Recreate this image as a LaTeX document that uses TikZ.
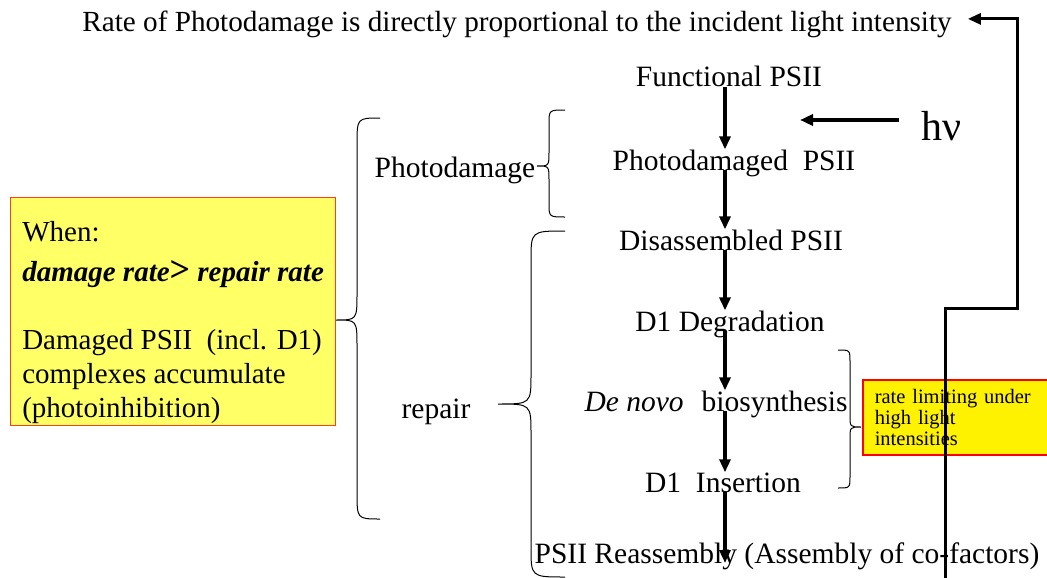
\documentclass[tikz,border=0pt]{standalone}
\usepackage{fontspec}
\setmainfont{Liberation Serif}
\usetikzlibrary{arrows.meta}
\definecolor{amarillo}{HTML}{FFFF66}
\definecolor{borde}{HTML}{FF4010}
\begin{document}
\begin{tikzpicture}[x=1pt,y=-1pt,
  txt/.style={inner sep=0pt,anchor=base,font=\fontsize{29.5}{34}\selectfont},
  flecha/.style={line width=3.8pt,-{Triangle[length=13pt,width=11pt]}},
  llave/.style={line width=1pt}]
\useasboundingbox (0,0) rectangle (1047,578);
\node[txt,font=\fontsize{29.2}{34}\selectfont] (top) at (517,32)
  {Rate of Photodamage is directly proportional to the incident light intensity};
\node[txt] (func) at (729,87) {Functional PSII};
\node[txt] (pdam) at (734,170) {Photodamaged\ \ PSII};
\node[txt] (dis) at (731,250) {Disassembled PSII};
\node[txt] (deg) at (730,331) {D1 Degradation};
\node[txt] (bio) at (716,411) {\textit{De novo}\hspace{18pt}biosynthesis};
\node[txt] (ins) at (723,492) {D1\ \ Insertion};
\node[txt] (reas) at (787,563) {PSII Reassembly (Assembly of co-factors)};
\node[txt] (pdlab) at (455,177) {Photodamage};
\node[txt] (rep) at (436,418) {repair};
\node[txt,font=\fontsize{42}{46}\selectfont] (hv) at (941,140) {hν};
\coordinate (ax) at (725,0);
\coordinate (hvtip) at (800,120);
\coordinate (fb) at (945,578);
% cajas
\node[draw=borde,fill=amarillo,line width=1.2pt,anchor=north west,
  minimum width=325pt,minimum height=228pt,inner sep=0pt,
  align=left,font=\fontsize{29}{34}\selectfont] (cond) at (10,197)
  {\rule{0pt}{42pt}When:\\[6pt]
   \textbf{\textit{damage rate}{\fontsize{36}{36}\selectfont>}\textit{ repair rate}}\\[34pt]
   Damaged PSII\ \ (incl. D1)\\
   complexes accumulate\\
   (photoinhibition)};
\node[draw=red,fill=yellow,line width=1.5pt,anchor=north west,
  minimum width=185pt,minimum height=75pt,text width=170pt,
  inner xsep=8pt,align=left,font=\fontsize{20.5}{21}\selectfont] (lim) at (862,379)
  {\hspace*{4pt}rate limiting under\\\hspace*{4pt}high light\\\hspace*{4pt}intensities};
% flechas
\draw[flecha] (func.base -| ax) -- (pdam.north -| ax);
\draw[flecha] (pdam.base -| ax) -- (dis.north -| ax);
\draw[flecha] (dis.base -| ax) -- (deg.north -| ax);
\draw[flecha] (deg.base -| ax) -- (bio.north -| ax);
\draw[flecha] (bio.base -| ax) -- (ins.north -| ax);
\draw[flecha] (ins.base -| ax) -- (reas.base -| ax);
\draw[flecha,shorten <=22pt] (hv.west |- hvtip) -- (hvtip);
\draw[line width=3pt,-{Triangle[length=13pt,width=11pt]}]
  (fb) |- (1017,308) |- ([xshift=16pt,yshift=6pt]top.east);
% llaves
\draw[llave] (380,118) .. controls (357,118) .. (357,145) -- (357,293)
  .. controls (357,320) .. (336,320) .. controls (357,320) .. (357,347)
  -- (357,492) .. controls (357,519) .. (380,519);
\draw[llave] (565,110) .. controls (549,110) .. (549,124) -- (549,152)
  .. controls (549,166) .. (537,166) .. controls (549,166) .. (549,180)
  -- (549,203) .. controls (549,217) .. (565,217);
\draw[llave] (565,231) .. controls (531,231) .. (531,261) -- (531,374)
  .. controls (531,404) .. (498,404) .. controls (531,404) .. (531,434)
  -- (531,547) .. controls (531,577) .. (565,577);
\draw[llave] (838,350) .. controls (850,350) .. (850,362) -- (850,415)
  .. controls (850,427) .. (861,427) .. controls (850,427) .. (850,439)
  -- (850,476) .. controls (850,488) .. (838,488);
\end{tikzpicture}
\end{document}
